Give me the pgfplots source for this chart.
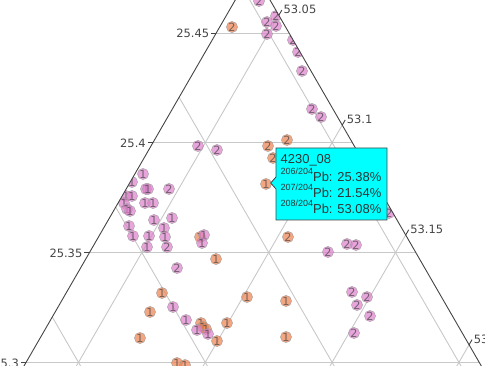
\documentclass[border=0pt]{standalone}
\usepackage{pgfplots}
\pgfplotsset{compat=1.18}
\usepackage{fontspec}
\setmainfont{DejaVu Sans}
\newfontfamily\ttip{Liberation Sans}
\definecolor{gridc}{RGB}{200,200,200}
\definecolor{edgec}{RGB}{68,68,68}
\definecolor{txt}{RGB}{68,68,68}
\definecolor{orangeb}{RGB}{239,132,82}
\definecolor{pinkb}{RGB}{222,130,205}
\definecolor{tipc}{RGB}{0,255,255}
\pgfplotsset{
  gl/.style={gridc, line width=0.9bp, forget plot},
  tk/.style={edgec, line width=0.9bp, forget plot},
  dots/.style={only marks, mark=*, mark size=5.6bp,
    point meta=explicit symbolic,
    nodes near coords={\pgfplotspointmeta},
    every node near coord/.append style={anchor=center, inner sep=0pt, text=txt,
      font=\fontsize{11.3}{11}\selectfont}},
}
\begin{document}
\begin{tikzpicture}
\begin{axis}[at={(0,0)}, anchor=south west, scale only axis,
  width=485bp, height=366bp, xmin=0, xmax=485, ymin=-366, ymax=0,
  hide axis, clip marker paths=true]
% a-grid (horizontal)
\addplot[gl] coordinates {(216.25,-33) (289.05,-33)};
\addplot[gl] coordinates {(152.85,-142.8) (352.45,-142.8)};
\addplot[gl] coordinates {(89.46,-252.6) (415.84,-252.6)};
\addplot[gl] coordinates {(26.07,-362.4) (479.23,-362.4)};
% c-grid (parallel to left edge)
\addplot[gl] coordinates {(278.83,-15.3) (45.21,-420)};
\addplot[gl] coordinates {(342.23,-125.1) (172.01,-420)};
\addplot[gl] coordinates {(405.68,-235.0) (298.81,-420)};
\addplot[gl] coordinates {(469.07,-344.8) (425.61,-420)};
% b-grid (parallel to right edge)
\addplot[gl] coordinates {(52.28,-317.0) (111.79,-420)};
\addplot[gl] coordinates {(115.67,-207.2) (238.59,-420)};
\addplot[gl] coordinates {(179.12,-97.3) (365.39,-420)};
\addplot[gl] coordinates {(242.52,12.5) (492.19,-420)};
% left ticks
\addplot[tk] coordinates {(216.25,-33) (211.25,-33)};
\addplot[tk] coordinates {(152.85,-142.8) (147.85,-142.8)};
\addplot[tk] coordinates {(89.46,-252.6) (84.46,-252.6)};
\addplot[tk] coordinates {(26.07,-362.4) (21.07,-362.4)};
% right ticks
\addplot[tk] coordinates {(278.83,-15.3) (281.83,-10.1)};
\addplot[tk] coordinates {(342.23,-125.1) (345.23,-119.9)};
\addplot[tk] coordinates {(405.68,-235.0) (408.68,-229.8)};
\addplot[tk] coordinates {(469.07,-344.8) (472.07,-339.6)};
\node[anchor=east, text=txt, inner sep=0pt, font=\fontsize{11.5}{12}\selectfont] at (axis cs:209.3,-33.5) {25.45};
\node[anchor=east, text=txt, inner sep=0pt, font=\fontsize{11.5}{12}\selectfont] at (axis cs:145.9,-143.3) {25.4};
\node[anchor=east, text=txt, inner sep=0pt, font=\fontsize{11.5}{12}\selectfont] at (axis cs:82.5,-253.1) {25.35};
\node[anchor=east, text=txt, inner sep=0pt, font=\fontsize{11.5}{12}\selectfont] at (axis cs:19.1,-362.9) {25.3};
\node[anchor=west, text=txt, inner sep=0pt, font=\fontsize{11.5}{12}\selectfont] at (axis cs:283.3,-9.6) {53.05};
\node[anchor=west, text=txt, inner sep=0pt, font=\fontsize{11.5}{12}\selectfont] at (axis cs:346.7,-119.4) {53.1};
\node[anchor=west, text=txt, inner sep=0pt, font=\fontsize{11.5}{12}\selectfont] at (axis cs:410.2,-229.3) {53.15};
\node[anchor=west, text=txt, inner sep=0pt, font=\fontsize{11.5}{12}\selectfont] at (axis cs:473.6,-339.1) {53.2};
\coordinate (apex) at (axis cs:252.65,30.05);
\coordinate (bl) at (axis cs:-7.19,-420);
\coordinate (br) at (axis cs:512.49,-420);
\coordinate (ptip) at (axis cs:270.7,-183);
\coordinate (pa) at (axis cs:276,-177);
\coordinate (pb) at (axis cs:276,-189);
\coordinate (c1) at (axis cs:276,-148);
\coordinate (c2) at (axis cs:387,-148);
\coordinate (c3) at (axis cs:387,-220);
\coordinate (c4) at (axis cs:276,-220);
\coordinate (l1) at (axis cs:280.5,-164);
\coordinate (l2) at (axis cs:280.5,-181.5);
\coordinate (l3) at (axis cs:280.5,-197.5);
\coordinate (l4) at (axis cs:280.5,-213.5);
\clip (axis cs:252.65,30.05) -- (axis cs:-7.19,-420) -- (axis cs:512.49,-420) -- cycle;
% orange series
\addplot[dots, mark options={fill=orangeb, fill opacity=0.72, draw=black!40, line width=0.35bp}] table[meta=l] {
x y l
232 -27 2
287 -140 2
268 -146 2
273 -158 2
266 -184 1
288 -237 2
200 -237 1
216 -259 1
162 -293 1
247 -297 1
286 -301 1
150 -312 1
201 -323 1
203 -327 1
206 -329 1
227 -323 1
217 -341 1
286 -337 1
140 -338 1
177 -363 1
185 -365 1
227 -368 1
};
% pink series
\addplot[dots, mark options={fill=pinkb, fill opacity=0.72, draw=black!40, line width=0.35bp}] table[meta=l] {
x y l
259 -1 2
276 -16 2
267 -22 2
276 -26 2
267 -34 2
293 -40 2
298 -52 2
302 -71 2
312 -109 2
321 -117 2
198 -146 2
217 -150 2
143 -174 1
132 -182 1
146 -189 1
148 -189 1
169 -189 2
126 -196 1
132 -196 1
145 -203 1
153 -203 1
124 -203 1
127 -209 1
130 -211 1
154 -220 1
172 -218 1
129 -226 1
164 -228 1
133 -236 1
149 -236 1
165 -237 1
204 -235 1
202 -243 1
147 -247 1
167 -247 2
177 -268 2
173 -307 1
186 -320 1
197 -330 1
208 -334 1
328 -252 2
347 -244 2
356 -245 2
352 -292 2
367 -297 2
357 -305 2
370 -316 2
354 -333 2
389 -213 2
};
\end{axis}
% triangle edges
\draw[edgec, line width=0.9bp] (bl) -- (apex) -- (br);
% hover label
\draw[edgec, fill=tipc, line width=0.8bp, line join=miter] (ptip) -- (pa) -- (c1) -- (c2) -- (c3) -- (c4) -- (pb) -- cycle;
\begin{scope}[every node/.style={anchor=base west, inner sep=0pt, text=black!80}]
\node at (l1) {\ttip\fontsize{13}{13}\selectfont 4230\_08};
\node at (l2) {\ttip\fontsize{13}{13}\selectfont\raisebox{6.5bp}{\fontsize{9}{9}\selectfont 206/204}Pb: 25.38\%};
\node at (l3) {\ttip\fontsize{13}{13}\selectfont\raisebox{6.5bp}{\fontsize{9}{9}\selectfont 207/204}Pb: 21.54\%};
\node at (l4) {\ttip\fontsize{13}{13}\selectfont\raisebox{6.5bp}{\fontsize{9}{9}\selectfont 208/204}Pb: 53.08\%};
\end{scope}
\pgfresetboundingbox
\useasboundingbox (0,0) rectangle (485bp,366bp);
\end{tikzpicture}
\end{document}
